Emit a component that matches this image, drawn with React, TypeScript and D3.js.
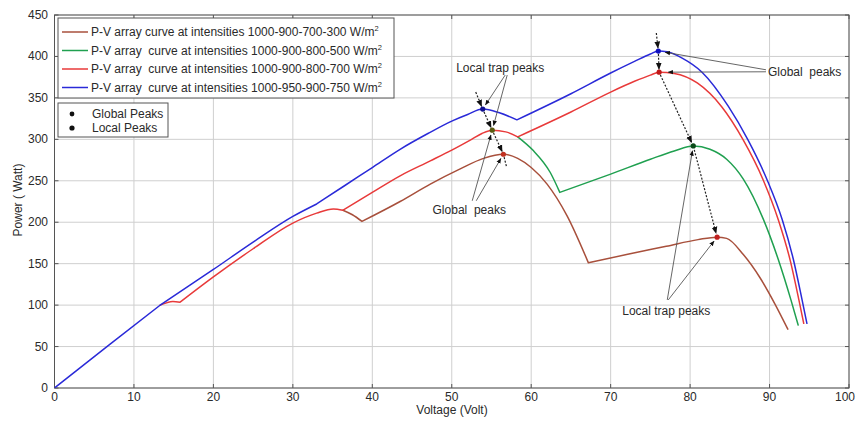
import React from "react";
import * as d3 from "d3";

type Pt = [number, number];

// Axis ticks
const xTicks = [0, 10, 20, 30, 40, 50, 60, 70, 80, 90, 100];
const yTicks = [0, 50, 100, 150, 200, 250, 300, 350, 400, 450];

// Pieces of curve that several series have in common (same irradiance on the leading modules)
const sharedOrigin: Pt[] = [[0, 0], [7, 53], [13.3, 100]];
const commonStart: Pt[] = [[13.3, 100], [14.9, 104.5], [15.8, 103.5]];
const commonRise: Pt[] = [[15.8, 103.5], [20, 134], [25, 168], [30, 199], [33, 211], [35.1, 216], [36.3, 214.5]];
const redGreenRise: Pt[] = [[36.3, 214.5], [40, 236], [43.5, 256], [47.3, 274], [50, 287], [52.5, 300], [53.8, 307], [55.1, 311], [56.8, 309], [58.3, 303]];

// Series 1: 1000-900-700-300 W/m2
const curve1: Pt[][] = [
  sharedOrigin,
  commonStart,
  commonRise,
  [[36.3, 214.5], [37.5, 209], [38.7, 201]],
  [[38.7, 201], [43.5, 225], [47.3, 246], [51, 264], [54, 277], [56.5, 282], [58.3, 277], [60, 266], [62, 246], [64.5, 208], [67.2, 151]],
  [[67.2, 151], [72, 161], [77, 171], [81, 179], [83.4, 182], [84.6, 180.5], [86.7, 161], [88.8, 133], [90.7, 101], [92.3, 71]],
];

// Series 2: 1000-900-800-500 W/m2
const curve2: Pt[][] = [
  sharedOrigin,
  commonStart,
  commonRise,
  redGreenRise,
  [[58.3, 303], [60.2, 287], [62.4, 260], [63.6, 236]],
  [[63.6, 236], [70, 258], [75, 276], [78, 286], [80.4, 292], [82.5, 288], [84.6, 276], [86.7, 252], [89.2, 204], [91.1, 155], [92.7, 106], [93.6, 76]],
];

// Series 3: 1000-900-800-700 W/m2
const curve3: Pt[][] = [
  sharedOrigin,
  commonStart,
  commonRise,
  redGreenRise,
  [[58.3, 303], [65, 333], [70, 357], [73, 370], [75, 377.5], [76.1, 381], [78, 379.5], [80.9, 368], [84, 339], [86.7, 299], [89.2, 251], [91.1, 203], [92.6, 154], [93.7, 106], [94.3, 78]],
];

// Series 4: 1000-950-900-750 W/m2
const curve4: Pt[][] = [
  sharedOrigin,
  [[13.3, 100], [20, 143], [25, 176], [30, 207], [33, 222]],
  [[33, 222], [36.5, 244], [40, 266], [43.5, 288], [47, 307], [50, 322], [52, 330], [53.9, 336.5], [56, 332], [58.2, 323.5]],
  [[58.2, 323.5], [65, 355], [70, 380], [73, 394], [75, 403], [76, 406.5], [77.1, 405.6], [79, 398], [81.5, 381], [84.8, 340], [87.3, 299], [89.7, 251], [91.6, 203], [93, 155], [94.1, 106], [94.7, 78]],
];

const seriesNames = [
  "P-V array curve at intensities 1000-900-700-300 W/m",
  "P-V array  curve at intensities 1000-900-800-500 W/m",
  "P-V array  curve at intensities 1000-900-800-700 W/m",
  "P-V array  curve at intensities 1000-950-900-750 W/m",
];
const seriesCurves = [curve1, curve2, curve3, curve4];
const seriesColors = ["#a8503c", "#20a050", "#e83a3a", "#2a2ad8"];

// Peaks (voltage, power)
const peakBlueGlobal: Pt = [76, 406.5];
const peakRedGlobal: Pt = [76.1, 381];
const peakGreenLocal: Pt = [80.4, 292];
const peakBrownLocal: Pt = [83.4, 182];
const peakBlueLocal: Pt = [53.9, 336.5];
const peakShared: Pt = [55.1, 311];
const peakBrownGlobal: Pt = [56.5, 282];

const peakDots: { p: Pt; c: string }[] = [
  { p: peakBlueGlobal, c: "#1010c0" },
  { p: peakRedGlobal, c: "#c01818" },
  { p: peakGreenLocal, c: "#0a4a18" },
  { p: peakBrownLocal, c: "#c02020" },
  { p: peakBlueLocal, c: "#101090" },
  { p: peakShared, c: "#5a5a10" },
  { p: peakBrownGlobal, c: "#c03020" },
];

const W = 856;
const H = 421;
const left = 54.5;
const right = 849;
const top = 15;
const bottom = 388;

const x = d3.scaleLinear().domain([0, 100]).range([left, right]);
const y = d3.scaleLinear().domain([0, 450]).range([bottom, top]);

const line = d3
  .line<Pt>()
  .x((d) => x(d[0]))
  .y((d) => y(d[1]))
  .curve(d3.curveMonotoneX);

// A piece shared with a series drawn later is left to that series, so it is stroked once.
function curvePath(idx: number): string {
  const segs = seriesCurves[idx];
  let out = "";
  let prevDrawn = false;
  segs.forEach((s) => {
    const coveredLater = seriesCurves.slice(idx + 1).some((c) => c.includes(s));
    if (coveredLater) {
      prevDrawn = false;
      return;
    }
    const d = line(s) || "";
    out += prevDrawn ? "L" + d.slice(1) : d;
    prevDrawn = true;
  });
  return out;
}

const px = (p: Pt): [number, number] => [x(p[0]), y(p[1])];

// Segment from a to b, trimmed by the given pixel gaps at both ends
function trimmed(a: [number, number], b: [number, number], gapA: number, gapB: number) {
  const dx = b[0] - a[0];
  const dy = b[1] - a[1];
  const len = Math.hypot(dx, dy) || 1;
  const ux = dx / len;
  const uy = dy / len;
  return {
    x1: a[0] + ux * gapA,
    y1: a[1] + uy * gapA,
    x2: b[0] - ux * gapB,
    y2: b[1] - uy * gapB,
  };
}

const font = "'Liberation Sans', Arial, sans-serif";
const textColor = "#2a2a2a";
const fs = 12;

export default function App() {
  const gridColor = "#cfcfcf";

  // Label anchors in pixel space derived from data coordinates
  const ltLeft: [number, number] = [x(56.1), y(386)];
  const gpLeft: [number, number] = [x(52.2), y(215)];
  const gpRight: [number, number] = [x(89.8), y(381.5)];
  const ltRight: [number, number] = [x(77), y(93)];

  const leaderLines = [
    trimmed([ltLeft[0] + 5, ltLeft[1] + 7], px(peakBlueLocal), 0, 5),
    trimmed([ltLeft[0] + 7, ltLeft[1] + 7], px(peakShared), 0, 5),
    trimmed([gpLeft[0] + 3, gpLeft[1] - 9], px(peakShared), 0, 5),
    trimmed([gpLeft[0] + 7, gpLeft[1] - 9], px(peakBrownGlobal), 0, 5),
    trimmed([gpRight[0] - 2, gpRight[1] - 2], px(peakBlueGlobal), 0, 7),
    trimmed([gpRight[0] - 2, gpRight[1]], px(peakRedGlobal), 0, 9),
    trimmed([ltRight[0] + 1, ltRight[1] - 11], px(peakGreenLocal), 0, 5),
    trimmed([ltRight[0] + 2, ltRight[1] - 11], px(peakBrownLocal), 0, 5),
  ];

  const bg = px(peakBlueGlobal);
  const rg = px(peakRedGlobal);
  const gl = px(peakGreenLocal);
  const bl = px(peakBrownLocal);
  const bLoc = px(peakBlueLocal);
  const sh = px(peakShared);
  const brg = px(peakBrownGlobal);

  const dashedArrows = [
    trimmed([bg[0] - 2, bg[1] - 18], bg, 0, 3),
    trimmed(bg, rg, 3, 3),
    trimmed(rg, gl, 3, 4),
    trimmed(gl, bl, 4, 4),
    trimmed([bLoc[0] - 7, bLoc[1] - 17], bLoc, 0, 3),
    trimmed(bLoc, sh, 3, 3),
    trimmed(sh, brg, 3, 3),
    trimmed(brg, [brg[0] + 3, brg[1] + 12], 3, 0),
  ];

  const legendRowsY = [32, 50.5, 69, 87.5];

  return (
    <svg
      width={W}
      height={H}
      viewBox={`0 0 ${W} ${H}`}
      style={{ position: "absolute", left: 0, top: 0, background: "#fff" }}
      fontFamily={font}
    >
      <defs>
        <marker id="arrowHead" viewBox="0 0 10 10" refX="9" refY="5" markerWidth="6" markerHeight="6" orient="auto">
          <path d="M0,1 L10,5 L0,9 Z" fill="#111" />
        </marker>
        <clipPath id="plotClip">
          <rect x={left} y={top} width={right - left} height={bottom - top} />
        </clipPath>
      </defs>
      <rect x={0} y={0} width={W} height={H} fill="#fff" />

      {/* grid */}
      {xTicks.map((t) => (
        <line key={"gx" + t} x1={x(t)} x2={x(t)} y1={top} y2={bottom} stroke={gridColor} strokeWidth={1} />
      ))}
      {yTicks.map((t) => (
        <line key={"gy" + t} x1={left} x2={right} y1={y(t)} y2={y(t)} stroke={gridColor} strokeWidth={1} />
      ))}

      {/* frame */}
      <rect x={left} y={top} width={right - left} height={bottom - top} fill="none" stroke="#555" strokeWidth={1} />
      {xTicks.map((t) => (
        <g key={"tx" + t}>
          <line x1={x(t)} x2={x(t)} y1={bottom} y2={bottom - 4} stroke="#555" />
          <line x1={x(t)} x2={x(t)} y1={top} y2={top + 4} stroke="#555" />
        </g>
      ))}
      {yTicks.map((t) => (
        <g key={"ty" + t}>
          <line x1={left} x2={left + 4} y1={y(t)} y2={y(t)} stroke="#555" />
          <line x1={right} x2={right - 4} y1={y(t)} y2={y(t)} stroke="#555" />
        </g>
      ))}

      {/* tick labels */}
      {xTicks.map((t) => (
        <text
          key={"lx" + t}
          x={t === 100 ? W - 1 : x(t)}
          y={401}
          textAnchor={t === 100 ? "end" : "middle"}
          fontSize={fs}
          fill={textColor}
        >
          {t}
        </text>
      ))}
      {yTicks.map((t) => (
        <text key={"ly" + t} x={48} y={y(t) + 4} textAnchor="end" fontSize={fs} fill={textColor}>
          {t}
        </text>
      ))}
      <text x={452} y={414} textAnchor="middle" fontSize={fs} fill={textColor}>
        Voltage (Volt)
      </text>
      <text
        transform={`translate(22,${200}) rotate(-90)`}
        textAnchor="middle"
        fontSize={fs}
        fill={textColor}
        style={{ whiteSpace: "pre" }}
      >
        {"Power ( Watt)"}
      </text>

      {/* curves */}
      <g clipPath="url(#plotClip)">
        {seriesCurves.map((_, i) => (
          <path
            key={"c" + i}
            d={curvePath(i)}
            fill="none"
            stroke={seriesColors[i]}
            strokeWidth={1.5}
            strokeLinejoin="round"
            strokeLinecap="round"
          />
        ))}
      </g>

      {/* leader lines */}
      {leaderLines.map((l, i) => (
        <line key={"ld" + i} {...l} stroke="#555" strokeWidth={0.9} markerEnd="url(#arrowHead)" />
      ))}
      {/* dashed tracking arrows */}
      {dashedArrows.map((l, i) => (
        <line
          key={"da" + i}
          {...l}
          stroke="#222"
          strokeWidth={1.2}
          strokeDasharray="2,1.6"
          markerEnd={i === dashedArrows.length - 1 ? undefined : "url(#arrowHead)"}
        />
      ))}

      {/* peak markers */}
      {peakDots.map((d, i) => (
        <circle key={"pk" + i} cx={x(d.p[0])} cy={y(d.p[1])} r={2.6} fill={d.c} />
      ))}

      {/* annotation labels */}
      <text x={ltLeft[0]} y={ltLeft[1] + 4} textAnchor="middle" fontSize={fs} fill={textColor}>
        Local trap peaks
      </text>
      <text x={gpLeft[0]} y={gpLeft[1] + 4} textAnchor="middle" fontSize={fs} fill={textColor} style={{ whiteSpace: "pre" }}>
        {"Global  peaks"}
      </text>
      <text x={gpRight[0]} y={gpRight[1] + 4} textAnchor="start" fontSize={fs} fill={textColor} style={{ whiteSpace: "pre" }}>
        {"Global  peaks"}
      </text>
      <text x={ltRight[0]} y={ltRight[1] + 4} textAnchor="middle" fontSize={fs} fill={textColor}>
        Local trap peaks
      </text>

      {/* series legend */}
      <rect x={58} y={18} width={336} height={80} fill="#fff" stroke="#555" strokeWidth={1} />
      {seriesNames.map((name, i) => (
        <g key={"lg" + i}>
          <line x1={62} x2={88} y1={legendRowsY[i]} y2={legendRowsY[i]} stroke={seriesColors[i]} strokeWidth={1.5} />
          <text x={91} y={legendRowsY[i] + 4} fontSize={fs} fill={textColor} style={{ whiteSpace: "pre" }}>
            {name}
            <tspan dy={-5} fontSize={7.5}>
              2
            </tspan>
          </text>
        </g>
      ))}

      {/* marker legend */}
      <rect x={58} y={103} width={110} height={34} fill="#fff" stroke="#555" strokeWidth={1} />
      <circle cx={72} cy={114} r={2.4} fill="#111" />
      <text x={92} y={118} fontSize={fs} fill={textColor}>
        Global Peaks
      </text>
      <circle cx={72} cy={128} r={2.6} fill="#111" />
      <text x={92} y={132} fontSize={fs} fill={textColor}>
        Local Peaks
      </text>
    </svg>
  );
}
